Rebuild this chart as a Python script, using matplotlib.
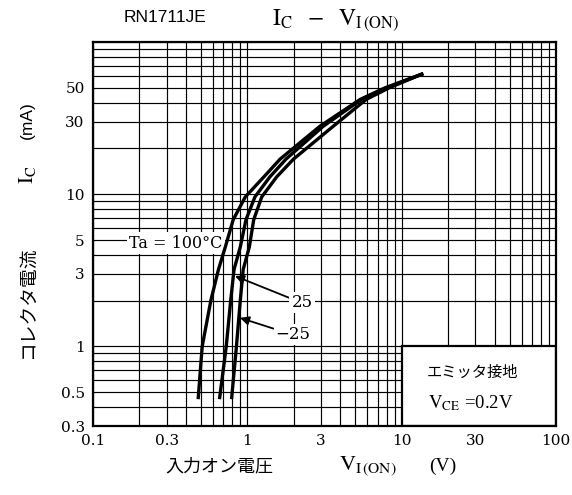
import numpy as np
import matplotlib
matplotlib.use("Agg")
import matplotlib.pyplot as plt
from matplotlib.patches import Rectangle

plt.rcParams['mathtext.fontset'] = 'stix'

# collector current (mA), shared by the three curves
ic_ma = [0.45, 1.0, 2.0, 3.2, 4.5, 6.8, 9.6, 13, 17, 28, 42, 50, 62]
# input on-voltage (V) for each ambient temperature
v_100 = [0.48, 0.51, 0.58, 0.65, 0.72, 0.81, 0.97, 1.28, 1.63, 2.96, 5.4, 7.8, 13.8]
v_25 = [0.66, 0.73, 0.78, 0.82, 0.90, 0.98, 1.12, 1.40, 1.78, 3.11, 5.5, 8.0, 13.8]
v_m25 = [0.79, 0.85, 0.90, 0.94, 1.03, 1.10, 1.24, 1.55, 1.99, 3.61, 5.9, 8.3, 13.8]

x_labels = [0.1, 0.3, 1, 3, 10, 30, 100]
y_labels = [0.3, 0.5, 1, 3, 5, 10, 30, 50]

W, H = 572, 495
fig = plt.figure(figsize=(W / 100, H / 100), dpi=100)
ax = fig.add_axes([93 / W, 1 - 426 / H, 463 / W, 384 / H])
ax.set_xscale('log')
ax.set_yscale('log')
ax.set_xlim(0.1, 100)
ax.set_ylim(0.3, 100)

# every decade line and sub-line is a grid line, only some carry labels
xgrid = [k * 10.0 ** e for e in (-1, 0, 1) for k in range(1, 10)] + [100]
ygrid = [k * 10.0 ** e for e in (-1, 0, 1) for k in range(1, 10) if k * 10.0 ** e >= 0.3] + [100]


def fmt(v):
    return ('%g' % v)


ax.set_xticks(xgrid)
ax.set_xticklabels([fmt(v) if any(np.isclose(v, x_labels)) else '' for v in xgrid])
ax.set_yticks(ygrid)
ax.set_yticklabels([fmt(v) if any(np.isclose(v, y_labels)) else '' for v in ygrid])
ax.minorticks_off()
ax.tick_params(length=0, pad=6, labelsize=11)
for lab in ax.get_xticklabels() + ax.get_yticklabels():
    lab.set_family('DejaVu Serif')
ax.grid(True, color='black', lw=0.85)
ax.set_axisbelow(True)
for s in ax.spines.values():
    s.set_linewidth(1.6)

# curves
for v in (v_100, v_25, v_m25):
    ax.plot(v, ic_ma, color='black', lw=2.4, solid_capstyle='butt',
            solid_joinstyle='round', zorder=3)

# condition box in the lower right corner
ax.add_patch(Rectangle((10, 0.3), 90, 0.7, facecolor='white', edgecolor='black',
                       lw=1.6, zorder=2))
ax.text(0.82, 0.14, 'エミッタ接地', transform=ax.transAxes, ha='center', va='center',
        family=['Noto Sans CJK JP', 'DejaVu Sans'], fontsize=11, zorder=4)
ax.text(0.816, 0.06, r'$\mathrm{V_{CE}}$ =0.2V', transform=ax.transAxes, ha='center',
        va='center', family='Liberation Serif', fontsize=13.5, zorder=4)

box = dict(facecolor='white', edgecolor='none', pad=1.5)
ax.text(0.345, 4.78, 'Ta = 100°C', ha='center', va='center', family='DejaVu Serif',
        fontsize=11.5, bbox=box, zorder=2.5)
ax.annotate('25', xy=(0.832, 2.90), xytext=(2.26, 1.93), ha='center', va='center',
            family='DejaVu Serif', fontsize=12, bbox=box, zorder=2.5,
            arrowprops=dict(arrowstyle='-|>', color='black', lw=1.3, mutation_scale=13,
                            shrinkA=0, shrinkB=0))
ax.annotate('−25', xy=(0.897, 1.54), xytext=(1.98, 1.19), ha='center', va='center',
            family='DejaVu Serif', fontsize=12, bbox=box, zorder=2.5,
            arrowprops=dict(arrowstyle='-|>', color='black', lw=1.3, mutation_scale=13,
                            shrinkA=0, shrinkB=0))

# titles
fig.text(124 / W, 1 - 18 / H, 'RN1711JE', ha='left', va='center',
         family='Liberation Sans', fontsize=12.5)
fig.text(336 / W, 1 - 20 / H, r'$\mathrm{I_C}\ \ -\ \ \mathrm{V_{I\,(ON)}}$',
         ha='center', va='center', fontsize=17)

# y axis label, pieces read bottom to top
fig.text(27 / W, 1 - 303 / H, 'コレクタ電流', rotation=90, ha='center', va='center',
         family=['Noto Sans CJK JP', 'DejaVu Sans'], fontsize=13.5)
fig.text(27 / W, 1 - 175 / H, r'$\mathrm{I_C}$', rotation=90, ha='center', va='center',
         fontsize=15)
fig.text(27 / W, 1 - 120 / H, '(mA)', rotation=90, ha='center', va='center',
         family='Liberation Sans', fontsize=12.5)

# x axis label
fig.text(219 / W, 1 - 466 / H, '入力オン電圧', ha='center', va='center',
         family=['Noto Sans CJK JP', 'DejaVu Sans'], fontsize=13)
fig.text(368 / W, 1 - 466 / H, r'$\mathrm{V_{I\,(ON)}}$', ha='center', va='center',
         fontsize=16)
fig.text(443 / W, 1 - 466 / H, '(V)', ha='center', va='center',
         family='Liberation Serif', fontsize=14)

fig.savefig('out.png', dpi=100)
